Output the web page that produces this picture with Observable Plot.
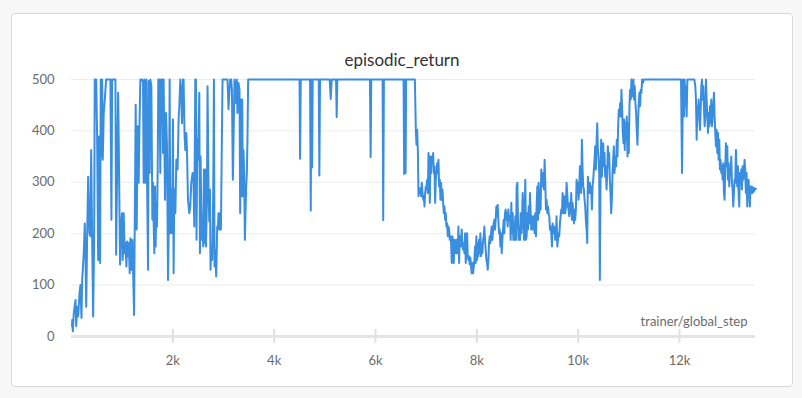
<!DOCTYPE html>
<html><head><meta charset="utf-8">
<script src="https://cdn.jsdelivr.net/npm/d3@7"></script>
<script src="https://cdn.jsdelivr.net/npm/@observablehq/plot@0.6"></script>
<style>
html,body{margin:0;padding:0;background:#f7f7f7;width:802px;height:398px;overflow:hidden;font-family:Lato,"Open Sans",sans-serif;}
#card{position:absolute;left:11px;top:13px;width:782px;height:374px;box-sizing:border-box;background:#fff;border:1px solid #d9d9d9;border-radius:4px;}
#title{position:absolute;left:11px;width:782px;top:49px;line-height:22px;text-align:center;font-size:17px;color:#333;}
#chart{position:absolute;left:0;top:0;}
</style></head>
<body>
<div id="card"></div>
<div id="title">episodic_return</div>
<div id="chart"></div>
<script>
const chartTitle = "episodic_return";
const xLabel = "trainer/global_step";
const xTicks = [2000, 4000, 6000, 8000, 10000, 12000];
const yTicks = [0, 100, 200, 300, 400, 500];

// phase 1: early learning (steps / episodic returns)
const steps1 = [10,14,26,45,79,93,112,132,158,177,197,211,242,262,276,290,309,329,355,374,388,408,427,447,459,487,506,526,538,552,565,577,591,605,617,636,656,684,768,788,802,867,881,900,920,932,946,959,979,999,1011,1030,1050,
1064,1084,1097,1117,1129,1149,1162,1182,1202,1215,1235,1247,1267,1287,1306,1326,1340,1359,1393,1412,1424,1438,1458,1478,1491,1511,1523,1543,1556,1576,1596,1609,1621,1635,1649,1661,1675,1688,1700,1714,1734,1753,1767,1793,1806,1818,1846,1866,1885,1905,1925,1937,1950,1970,1984,2003,2015,2029,2049,2069,2094,2114,
2128,2147,2167,2181,2200,2212,2232,2246,2266,2279,2299,2325,2344,2364,2390,2409,2423,2443,2456,2468,2482,2496,2508,2522,2535,2547,2561,2575,2587,2600,2614,2626,2640,2654,2673,2685,2705,2719,2732,2744,2758,2778,2797,2811,2823,2837,2856,2876,2890,2902,2916,2929,2949,2969,2981,3079,3099,3119,3132,3152,3166,3185,3205,3217,
3237,3251,3264,3276,3296,3316,3329,3343,3355,3369,3383,3394,3408,3422,3434,3448,3461,3473,3487];
const returns1 = [20,32,10,45,71,20,58,39,84,100,36,110,162,220,162,58,195,311,200,195,363,188,39,188,500,500,389,149,389,357,143,500,350,500,344,435,460,500,500,227,500,500,159,318,474,383,253,140,220,240,149,240,162,
182,136,185,156,182,123,191,130,188,130,42,201,451,208,409,299,402,500,500,493,299,500,299,500,305,130,497,318,500,487,227,299,220,162,292,175,260,214,318,500,500,318,500,500,357,500,266,435,370,110,253,500,201,286,201,422,123,286,240,344,325,422,
448,500,474,415,500,500,389,363,396,363,266,240,253,299,318,299,214,500,500,188,383,344,402,474,162,350,253,188,234,175,325,182,325,175,266,487,286,224,286,130,175,149,279,500,136,169,117,214,214,240,208,240,208,396,500,500,442,480,500,500,480,305,428,500,
487,454,500,435,493,480,240,461,273,461,273,363,318,188,240,292,318,383,500];

// phase 2: plateau at 500 with occasional drops
const steps2 = [4501,4511,4525,4708,4722,4734,4748,4761,4880,4892,4905,5096,5116,5136,5221,5234,5246,5890,5904,5916,6140,6152,6166,6554,6566,6580,6594,6605,6777];
const returns2 = [500,346,500,500,245,500,329,500,500,313,500,500,462,500,500,427,500,500,349,500,500,226,500,500,316,500,318,500,500];

// phase 3: collapse and slow recovery
const steps3 = [6796,6809,6822,6836,6849,6862,6875,6888,6901,6914,
6928,6941,6954,6967,6980,6993,7006,7019,7033,7046,
7059,7072,7085,7098,7111,7125,7138,7151,7164,7177,
7190,7203,7216,7230,7243,7256,7269,7282,7295,7308,
7322,7335,7348,7361,7374,7387,7400,7414,7427,7440,
7453,7466,7479,7492,7505,7519,7532,7545,7558,7571,
7584,7597,7611,7624,7637,7650,7663,7676,7689,7702,
7716,7729,7742,7755,7768,7781,7794,7808,7821,7834,
7847,7860,7873,7886,7899,7913,7926,7939,7952,7965,
7978,7991,8005,8018,8031,8044,8057,8070,8083,8097,
8110,8123,8136,8149,8162,8175,8188,8202,8215,8228,
8241,8254,8267,8280,8294,8307,8320,8333,8346,8359,
8372,8385,8399,8412,8425,8438,8451,8464,8477,8491,
8504,8517,8530,8543,8556,8569,8582,8596,8609,8622,
8635,
8655,8668,8681,8694,8708,8721,8734,8747,8760,8773,
8786,8800,8813,8826,8839,8852,8865,8878,8891,8905,
8918,8931,8944,8957,8970,8983,8997,9010,9023,9036,
9049,9062,9075,9088,9102,9115,9128,9141,9154,9167,
9180,9194,9207,9220,9233,9246,9259,9272,9285,9299,
9312,9325,9338,9351,9364,9377,9391,9404,9417,9430,
9443,9456,9469,9483,9496,9509,9522,9535,9548,9561,
9574,9588,9601,9614,9627,9640,9653,9666,9680,9693,
9706,9719,9732,9745,9758,9771,9785,9798,9811,9824,
9837,9850,9863,9877,9890,9903,9916,9929,9942,9955,
9969,9982,9995,10008,10021,10034,10047,10060,10074,10087,
10100,10113,10126,10139,10152,10166,10179,10192,10205,10218,
10231,10244,10257,10271,10284,10297,10310,10323,10336,10349,
10363,10376,10389,10402,10415,10428,10441,10454,10468,10481,
10494,10507,10520,10533,10546,10560,10573,10586,10599,10612,
10625,10638,10651,10665,10678,10691,10704];
const returns3 = [402,373,402,363,273,286,279,289,273,299,
279,266,273,253,279,292,286,305,279,357,
331,260,350,318,350,337,357,318,331,260,
305,318,337,318,344,292,305,266,299,266,
286,260,240,253,227,240,214,220,195,214,
208,188,195,182,143,195,175,143,188,169,
162,188,162,175,214,143,195,175,188,208,
175,169,182,162,201,143,169,201,156,149,
156,140,153,136,123,143,123,136,149,175,
143,195,149,182,156,188,162,201,156,182,
162,188,195,214,188,169,149,143,130,149,
182,195,182,201,214,188,208,220,227,208,
227,253,234,256,227,201,208,175,201,162,
188,208,227,201,240,247,227,240,214,247,
227,
234,188,260,201,240,188,220,188,234,188,
292,299,220,188,214,188,240,201,227,279,
234,188,253,305,188,195,240,208,253,220,
279,240,208,220,234,208,234,201,240,195,
253,292,227,299,240,286,247,325,305,292,
318,286,344,299,247,266,240,253,240,234,
208,214,201,175,220,201,214,208,188,201,
234,175,188,201,195,220,234,247,240,279,
253,240,273,240,253,299,279,253,247,234,
260,240,279,227,260,240,220,247,227,247,
305,286,299,266,286,331,305,279,383,325,
292,286,266,253,227,208,182,311,292,279,
299,279,292,247,292,305,325,344,370,325,
376,415,363,350,318,110,305,383,311,344,
376,331,357,311,331,286,318,370,331,357,
305,279,240,266,318,344,370];

// phase 4: second plateau and decline
const steps4 = [10717,10736,10749,10762,10776,10789,10802,10815,10828,10841,
10854,10868,10881,10894,10907,10920,10933,10946,10959,10973,
10986,10999,11012,11025,11038,11051,11065,11078,11091,11104,
11117,11130,11143,11156,11170,11183,11196,11209,11222,11235,
11248,11262,11275,11301,12030,12050,12069,12089,12102,12115,
12128,12141,12155,12293,12312,12325,12339,12352,12365,12378,
12391,12404,12417,12430,12444,12457,12470,12483,12496,12509,
12522,12536,12549,12562,12575,12588,12601,12614,12627,12641,
12654,12667,12680,12693,12706,12719,12733,12746,12759,12772,
12785,12798,12811,12825,12838,12851,12864,12877,12890,12903,
12916,12930,12943,12956,12969,12982,12995,13008,13022,13035,
13048,13061,13074,13087,13100,13114,13127,13140,13153,13166,
13179,13192,13206,13219,13232,13245,13258,13271,13284,13297,
13310,13324,13337,13350,13363,13376,13389,13402,13416,13429,
13442,13455,13468,13481,13494,13507];
const returns4 = [318,350,331,383,350,409,441,428,454,428,
480,441,396,376,422,363,415,383,428,350,
415,357,448,480,461,500,467,487,500,461,
487,454,435,402,373,422,454,474,448,480,
474,500,493,500,500,318,500,428,500,448,
487,428,500,500,487,461,383,448,428,461,
422,402,435,487,500,461,487,441,409,428,
500,461,428,396,435,409,448,415,461,409,
428,448,474,428,396,370,402,357,396,344,
383,325,344,318,331,305,337,279,266,325,
376,331,370,305,337,292,325,318,350,299,
286,253,279,305,299,363,318,292,331,279,
253,318,299,325,286,331,305,318,344,325,
279,318,253,299,305,279,253,292,279,292,
279,289,282,289,286,287];

const phases = [[steps1, returns1], [steps2, returns2], [steps3, returns3], [steps4, returns4]];
const data = [];
phases.forEach(([s, r], i) => {
  if (s.length !== r.length) throw new Error("length mismatch in phase " + (i + 1) + ": " + s.length + " vs " + r.length);
  s.forEach((step, j) => data.push({step, value: r[j]}));
});

const textColor = "#6b6b6b";
const chart = Plot.plot({
  width: 802,
  height: 398,
  marginLeft: 71,
  marginRight: 47,
  marginTop: 79,
  marginBottom: 62,
  style: {background: "transparent", fontFamily: "Lato, 'Open Sans', sans-serif", fontSize: "13px", color: textColor},
  x: {domain: [0, 13500], label: null},
  y: {domain: [0, 500], label: null},
  marks: [
    Plot.gridY(yTicks.filter(d => d > 0), {stroke: "#ececec", strokeOpacity: 1}),
    Plot.ruleY([0], {stroke: "#e5e5e5", strokeWidth: 3}),
    Plot.tickX(xTicks, {x: d => d, stroke: "#e0e0e0", strokeWidth: 2, insetTop: 250, insetBottom: -7}),
    Plot.axisY(yTicks, {tickSize: 0, tickPadding: 17, fill: textColor, fontSize: 13, label: null}),
    Plot.axisX(xTicks, {tickSize: 0, tickPadding: 19, tickFormat: d => d / 1000 + "k", fill: textColor, fontSize: 13, label: null}),
    Plot.text([xLabel], {text: d => d, frameAnchor: "bottom-right", textAnchor: "end", dx: -8, dy: -11, fill: textColor, fontSize: 13}),
    Plot.line(data, {x: "step", y: "value", stroke: "#3a8ee0", strokeWidth: 2})
  ]
});
document.getElementById("chart").appendChild(chart);
document.getElementById("title").textContent = chartTitle;
</script>
</body></html>
